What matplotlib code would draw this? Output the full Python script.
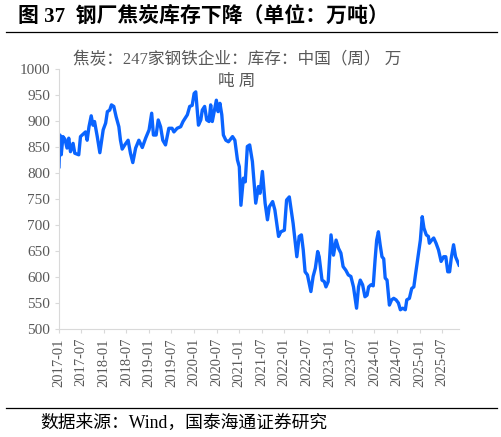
import numpy as np
import pandas as pd
import matplotlib
matplotlib.use("Agg")
import matplotlib.pyplot as plt
import matplotlib.dates as mdates

plt.rcParams['font.family'] = ['Liberation Serif', 'Noto Sans CJK SC', 'DejaVu Sans']

# 焦炭：247家钢铁企业：库存（万吨）
dates = [
    "2017-01-01", "2017-01-09", "2017-01-19", "2017-02-02", "2017-02-18", "2017-03-07",
    "2017-03-21", "2017-04-04", "2017-04-25", "2017-05-09", "2017-06-10", "2017-06-24",
    "2017-08-04", "2017-08-17", "2017-09-01", "2017-09-19", "2017-10-03", "2017-10-16",
    "2017-11-07", "2017-11-28", "2017-12-25", "2018-01-14", "2018-01-28", "2018-02-16",
    "2018-03-02", "2018-03-21", "2018-04-09", "2018-05-01", "2018-05-14", "2018-05-28",
    "2018-06-18", "2018-07-15", "2018-08-03", "2018-08-22", "2018-09-14", "2018-10-10",
    "2018-11-07", "2018-12-04", "2019-01-01", "2019-01-22", "2019-02-05", "2019-02-27",
    "2019-03-16", "2019-04-04", "2019-04-22", "2019-05-14", "2019-06-10", "2019-07-06",
    "2019-07-21", "2019-08-16", "2019-09-14", "2019-10-03", "2019-10-19", "2019-11-07",
    "2019-11-26", "2019-12-16", "2020-01-01", "2020-01-14", "2020-02-05", "2020-02-24",
    "2020-03-07", "2020-03-26", "2020-04-12", "2020-05-01", "2020-05-14", "2020-05-27",
    "2020-06-16", "2020-06-29", "2020-07-13", "2020-07-28", "2020-08-12", "2020-08-25",
    "2020-09-14", "2020-10-05", "2020-11-07", "2020-11-26", "2020-12-17", "2021-01-01",
    "2021-01-14", "2021-02-03", "2021-02-18", "2021-03-07", "2021-03-26", "2021-04-17",
    "2021-05-14", "2021-06-05", "2021-06-18", "2021-07-07", "2021-07-29", "2021-08-17",
    "2021-09-01", "2021-09-28", "2021-10-16", "2021-11-15", "2021-12-04", "2022-01-01",
    "2022-01-19", "2022-02-10", "2022-03-13", "2022-04-12", "2022-05-01", "2022-05-19",
    "2022-06-03", "2022-06-18", "2022-07-07", "2022-07-21", "2022-08-04", "2022-08-22",
    "2022-09-09", "2022-09-28", "2022-10-10", "2022-11-02", "2022-11-21", "2022-12-04",
    "2022-12-22", "2023-01-14", "2023-02-03", "2023-02-24", "2023-03-16", "2023-04-04",
    "2023-04-22", "2023-05-14", "2023-06-03", "2023-06-24", "2023-07-15", "2023-08-09",
    "2023-08-25", "2023-09-08", "2023-09-27", "2023-10-16", "2023-11-02", "2023-11-15",
    "2023-12-04", "2023-12-22", "2024-01-06", "2024-01-19", "2024-02-02", "2024-02-16",
    "2024-03-02", "2024-03-16", "2024-03-28", "2024-04-12", "2024-05-01", "2024-05-19",
    "2024-06-05", "2024-06-24", "2024-07-13", "2024-07-29", "2024-08-17", "2024-09-07",
    "2024-09-19", "2024-10-10", "2024-10-29", "2024-11-15", "2024-11-28", "2024-12-17",
    "2025-01-07", "2025-01-22", "2025-02-05", "2025-02-24", "2025-03-13", "2025-03-21",
    "2025-04-09", "2025-04-25", "2025-05-14", "2025-06-03", "2025-06-24", "2025-07-15",
    "2025-08-01", "2025-08-17", "2025-09-01", "2025-09-14", "2025-10-03", "2025-10-19",
    "2025-11-16",
]
values = [
    812, 873, 835, 870, 865, 848,
    867, 841, 857, 838, 835, 870,
    879, 863, 889, 910, 892, 899,
    870, 839, 883, 896, 918, 921,
    931, 928, 908, 889, 863, 846,
    854, 863, 838, 820, 848, 863,
    849, 867, 883, 915, 873, 873,
    902, 889, 863, 854, 886, 886,
    879, 886, 889, 899, 905, 912,
    928, 930, 953, 956, 892, 902,
    921, 928, 902, 899, 931, 899,
    924, 940, 918, 934, 912, 873,
    863, 860, 870, 863, 825, 812,
    738, 790, 783, 851, 854, 822,
    742, 774, 761, 803, 742, 710,
    735, 745, 729, 678, 687, 690,
    748, 754, 703, 639, 678, 681,
    652, 610, 604, 588, 572, 601,
    617, 649, 639, 594, 591, 581,
    591, 681, 642, 671, 655, 646,
    620, 613, 604, 601, 581, 540,
    581, 594, 585, 562, 565, 581,
    585, 583, 633, 671, 687, 662,
    639, 635, 598, 594, 546, 556,
    559, 556, 550, 537, 540, 537,
    556, 559, 578, 581, 604, 636,
    671, 716, 694, 681, 678, 665,
    671, 675, 665, 652, 630, 639,
    639, 610, 610, 636, 662, 639,
    623,
]

title = "图 37  钢厂焦炭库存下降（单位：万吨）"
sub_title = "焦炭：247家钢铁企业：库存：中国（周） 万\n吨 周"
source = "数据来源：Wind，国泰海通证券研究"

x = pd.to_datetime(dates)
y = np.array(values)

fig = plt.figure(figsize=(5.02, 4.37), dpi=100)
ax = fig.add_axes([59 / 502, 1 - 329 / 437, 400 / 502, 260 / 437])

ax.plot(x, y, color="#0a64ff", linewidth=2.4, solid_joinstyle="round")

ax.set_ylim(500, 1000)
ax.set_yticks(np.arange(500, 1001, 50))
ax.set_xlim(x[0], x[-1])
ticks = pd.date_range("2017-01-01", "2025-07-01", freq="6MS")
ax.set_xticks(ticks)
ax.xaxis.set_major_formatter(mdates.DateFormatter("%Y-%m"))
ax.tick_params(axis="x", rotation=90, labelsize=10.5, colors="#595959", length=3, color="#d9d9d9")
ax.tick_params(axis="y", labelsize=11, colors="#595959", length=3, color="#d9d9d9")
for lbl in ax.get_xticklabels() + ax.get_yticklabels():
    lbl.set_family(["Liberation Serif"])

for s in ["top", "right"]:
    ax.spines[s].set_visible(False)
ax.spines["left"].set_color("#d9d9d9")
ax.spines["bottom"].set_color("#d9d9d9")

fig.text(237 / 502, 1 - 52 / 437, sub_title, ha="center", va="top", fontsize=12,
         color="#595959", linespacing=1.45)
fig.text(18 / 502, 1 - 17 / 437, title, ha="left", va="center", fontsize=15,
         fontweight="bold", family=["Liberation Serif", "Noto Sans CJK SC"])
fig.add_artist(plt.Line2D([6 / 502, 497 / 502], [1 - 32 / 437] * 2, color="black", linewidth=0.9))
fig.add_artist(plt.Line2D([6 / 502, 497 / 502], [1 - 408 / 437] * 2, color="black", linewidth=0.9))
fig.text(40 / 502, 1 - 423 / 437, source, ha="left", va="center", fontsize=12.8, color="black")

fig.savefig("out.png", dpi=100)
